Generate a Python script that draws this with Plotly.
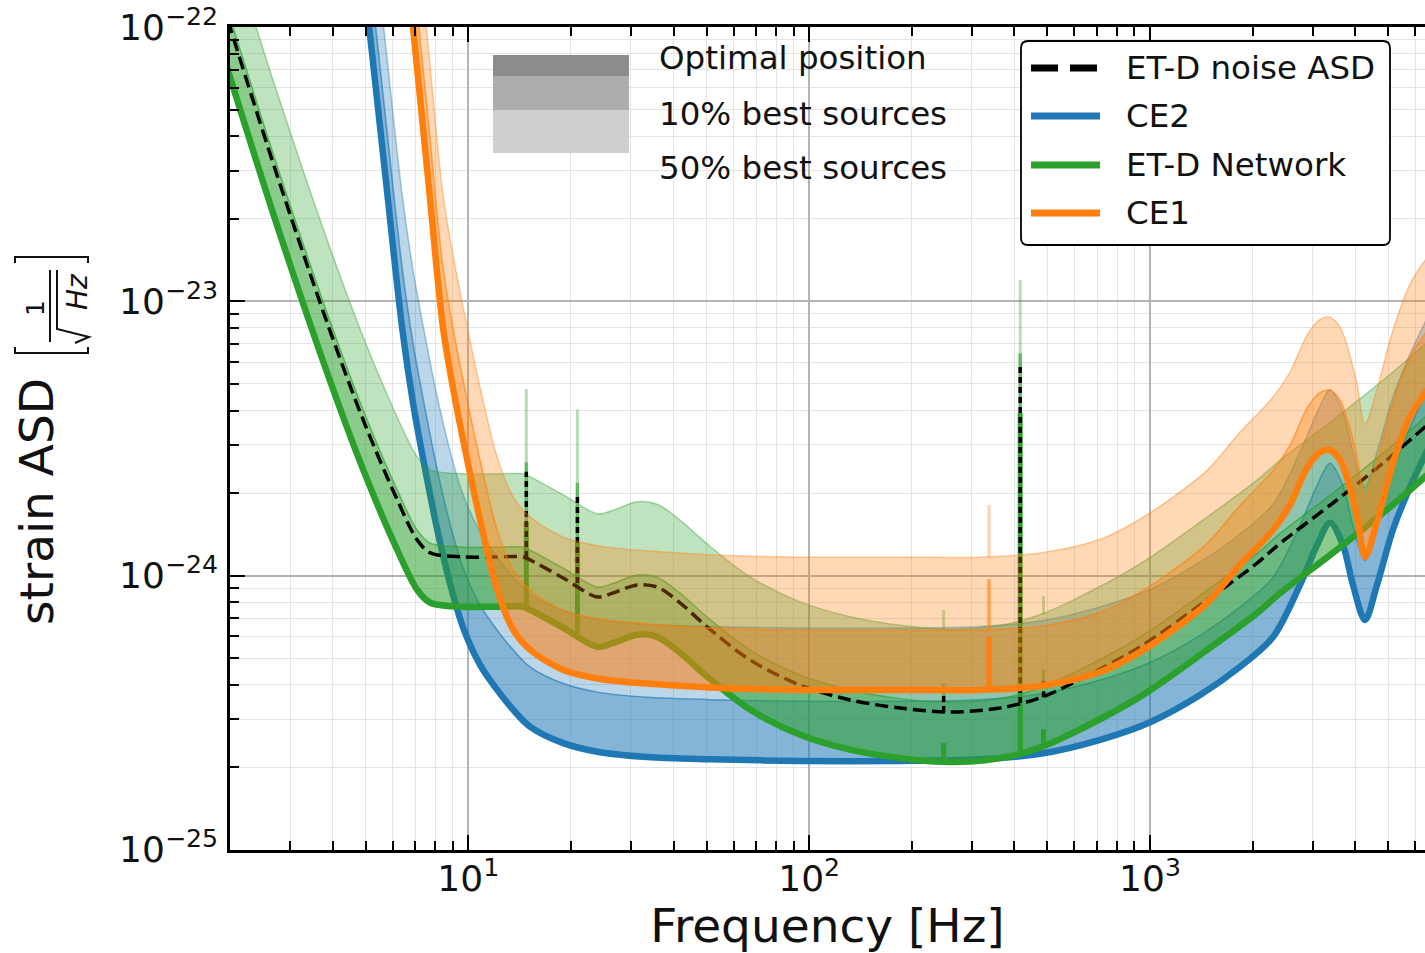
import math
import plotly.graph_objects as go

# ---------------------------------------------------------------- data
# ET-D single detector noise ASD (dashed black)
etd_freq = [1.9, 2.0, 2.72, 3.83, 4.92, 6.19, 7.08, 7.74, 9.66, 12.0, 14.5, 15.2, 19.0, 23.9, 26.6,
            31.3, 35.8, 41.9, 50.2, 67.2, 94.1, 132, 185, 259, 363, 475, 594, 935, 1470, 2060,
            2405, 3440, 4820, 6400, 7087]
etd_noise = [1.23e-22, 1.0e-22, 3.0e-23, 8.55e-24, 3.69e-24, 1.89e-24, 1.35e-24, 1.21e-24, 1.17e-24,
             1.17e-24, 1.17e-24, 1.14e-24, 9.8e-25, 8.36e-25, 8.64e-25, 9.25e-25, 9.09e-25, 7.94e-25,
             6.5e-25, 4.92e-25, 3.99e-25, 3.52e-25, 3.29e-25, 3.18e-25, 3.29e-25, 3.58e-25, 4.06e-25,
             5.5e-25, 8.15e-25, 1.11e-24, 1.31e-24, 1.84e-24, 2.57e-24, 3.48e-24, 3.9e-24]

# ET-D network: optimal position, 10% best sources, 50% best sources
etn_opt = [8.09e-23, 6.58e-23, 1.97e-23, 5.62e-24, 2.43e-24, 1.24e-24, 8.88e-25, 7.96e-25, 7.70e-25,
           7.70e-25, 7.70e-25, 7.50e-25, 6.45e-25, 5.50e-25, 5.68e-25, 6.09e-25, 5.98e-25, 5.22e-25,
           4.28e-25, 3.24e-25, 2.63e-25, 2.32e-25, 2.16e-25, 2.09e-25, 2.16e-25, 2.36e-25, 2.67e-25,
           3.62e-25, 5.36e-25, 7.30e-25, 8.62e-25, 1.21e-24, 1.69e-24, 2.29e-24, 2.57e-24]
etn_p10 = [1.335e-22, 1.086e-22, 3.25e-23, 9.27e-24, 4.01e-24, 2.05e-24, 1.465e-24, 1.313e-24, 1.27e-24,
           1.27e-24, 1.27e-24, 1.238e-24, 1.064e-24, 9.08e-25, 9.37e-25, 1.005e-24, 9.87e-25, 8.61e-25,
           7.06e-25, 5.35e-25, 4.34e-25, 3.83e-25, 3.56e-25, 3.45e-25, 3.56e-25, 3.89e-25, 4.41e-25,
           5.97e-25, 8.84e-25, 1.205e-24, 1.422e-24, 2.0e-24, 2.79e-24, 3.78e-24, 4.24e-24]
etn_p50 = [2.47e-22, 2.01e-22, 6.01e-23, 1.714e-23, 7.41e-24, 3.78e-24, 2.71e-24, 2.43e-24, 2.35e-24,
           2.35e-24, 2.35e-24, 2.29e-24, 1.97e-24, 1.68e-24, 1.73e-24, 1.86e-24, 1.82e-24, 1.59e-24,
           1.305e-24, 9.88e-25, 8.02e-25, 7.08e-25, 6.59e-25, 6.37e-25, 6.59e-25, 7.2e-25, 8.14e-25,
           1.104e-24, 1.635e-24, 2.23e-24, 2.63e-24, 3.69e-24, 5.15e-24, 6.98e-24, 7.84e-24]

# CE2
ce2_freq = [5.02, 5.71, 6.41, 6.90, 7.48, 8.11, 8.86, 9.67, 10.84, 12.16, 13.55, 15.2, 19.0, 23.9,
            33.5, 51.3, 94.1, 185, 317, 476, 714, 1000, 1402, 1836, 2295, 2754, 3089, 3373, 3681,
            3938, 4272, 4632, 5159, 5788, 6406, 7087]
ce2_opt = [1.254e-22, 2.887e-23, 7.86e-24, 4.19e-24, 2.43e-24, 1.47e-24, 9.25e-25, 6.44e-25, 4.72e-25,
           3.83e-25, 3.24e-25, 2.81e-25, 2.45e-25, 2.28e-25, 2.18e-25, 2.14e-25, 2.11e-25, 2.11e-25,
           2.14e-25, 2.24e-25, 2.52e-25, 2.92e-25, 3.67e-25, 4.65e-25, 5.97e-25, 9.25e-25, 1.29e-24,
           1.56e-24, 1.29e-24, 9.25e-25, 6.89e-25, 9.25e-25, 1.47e-24, 2.10e-24, 2.75e-24, 3.54e-24]
ce2_p10 = [2.069e-22, 4.76e-23, 1.297e-23, 6.91e-24, 4.01e-24, 2.43e-24, 1.526e-24, 1.063e-24, 7.79e-25,
           6.32e-25, 5.35e-25, 4.64e-25, 4.04e-25, 3.76e-25, 3.60e-25, 3.53e-25, 3.48e-25, 3.48e-25,
           3.53e-25, 3.70e-25, 4.16e-25, 4.82e-25, 6.06e-25, 7.67e-25, 9.85e-25, 1.526e-24, 2.13e-24,
           2.57e-24, 2.13e-24, 1.526e-24, 1.137e-24, 1.526e-24, 2.43e-24, 3.47e-24, 4.54e-24, 5.84e-24]
ce2_p50 = [3.82e-22, 8.81e-23, 2.40e-23, 1.278e-23, 7.41e-24, 4.48e-24, 2.82e-24, 1.964e-24, 1.44e-24,
           1.168e-24, 9.88e-25, 8.57e-25, 7.47e-25, 6.95e-25, 6.65e-25, 6.53e-25, 6.44e-25, 6.44e-25,
           6.53e-25, 6.83e-25, 7.69e-25, 8.91e-25, 1.119e-24, 1.418e-24, 1.821e-24, 2.82e-24, 3.93e-24,
           4.76e-24, 3.93e-24, 2.82e-24, 2.10e-24, 2.82e-24, 4.48e-24, 6.41e-24, 8.39e-24, 1.08e-23]

# CE1
ce1_freq = [6.76, 7.63, 8.45, 9.16, 10.0, 10.99, 12.16, 13.55, 15.2, 19.0, 24.4, 34.2, 54.8, 94.1,
            185, 317, 476, 714, 935, 1168, 1470, 1836, 2295, 2574, 2887, 3151, 3373, 3607, 3782,
            4046, 4272, 4632, 5159, 5788, 6406, 7087]
ce1_opt = [1.254e-22, 2.77e-23, 7.86e-24, 4.37e-24, 2.53e-24, 1.47e-24, 8.86e-25, 6.34e-25, 5.36e-25,
           4.53e-25, 4.20e-25, 4.03e-25, 3.89e-25, 3.83e-25, 3.83e-25, 3.83e-25, 3.96e-25, 4.45e-25,
           5.27e-25, 6.34e-25, 7.94e-25, 1.093e-24, 1.466e-24, 1.809e-24, 2.467e-24, 2.82e-24, 2.87e-24,
           2.64e-24, 2.27e-24, 1.64e-24, 1.17e-24, 1.57e-24, 2.57e-24, 3.79e-24, 4.63e-24, 5.62e-24]
ce1_p10 = [2.069e-22, 4.57e-23, 1.297e-23, 7.21e-24, 4.17e-24, 2.43e-24, 1.462e-24, 1.046e-24, 8.84e-25,
           7.47e-25, 6.93e-25, 6.65e-25, 6.42e-25, 6.32e-25, 6.32e-25, 6.32e-25, 6.53e-25, 7.34e-25,
           8.70e-25, 1.046e-24, 1.31e-24, 1.803e-24, 2.42e-24, 2.985e-24, 4.07e-24, 4.65e-24, 4.74e-24,
           4.36e-24, 3.75e-24, 2.71e-24, 1.93e-24, 2.59e-24, 4.24e-24, 6.25e-24, 7.64e-24, 9.27e-24]
ce1_p50 = [3.82e-22, 8.45e-23, 2.40e-23, 1.333e-23, 7.72e-24, 4.48e-24, 2.70e-24, 1.934e-24, 1.635e-24,
           1.382e-24, 1.281e-24, 1.229e-24, 1.186e-24, 1.168e-24, 1.168e-24, 1.168e-24, 1.208e-24,
           1.357e-24, 1.607e-24, 1.934e-24, 2.42e-24, 3.33e-24, 4.47e-24, 5.52e-24, 7.52e-24, 8.60e-24,
           8.75e-24, 8.05e-24, 6.92e-24, 5.00e-24, 3.57e-24, 4.79e-24, 7.84e-24, 1.156e-23, 1.412e-23,
           1.714e-23]

# narrow spectral lines (frequency, base value, peak value)
etd_line_freq = [14.8, 20.9, 248, 416, 487]
etd_line_base = [1.17e-24, 9.4e-25, 3.18e-25, 3.43e-25, 3.6e-25]
etd_line_top = [2.39e-24, 2.0e-24, 3.7e-25, 5.96e-24, 4.2e-25]
etn_line_opt_base = [7.70e-25, 6.18e-25, 2.09e-25, 2.26e-25, 2.37e-25]
etn_line_opt_top = [1.57e-24, 1.32e-24, 2.45e-25, 3.92e-24, 2.75e-25]
etn_line_p10_base = [1.27e-24, 1.02e-24, 3.45e-25, 3.72e-25, 3.9e-25]
etn_line_p10_top = [2.59e-24, 2.18e-24, 4.05e-25, 6.47e-24, 4.55e-25]
etn_line_p50_base = [2.35e-24, 1.885e-24, 6.37e-25, 6.88e-25, 7.2e-25]
etn_line_p50_top = [4.79e-24, 4.03e-24, 7.5e-25, 1.2e-23, 8.4e-25]
ce1_line_freq = [337]
ce1_line_opt_base = [3.83e-25]
ce1_line_opt_top = [5.97e-25]
ce1_line_p10_base = [6.32e-25]
ce1_line_p10_top = [9.7e-25]
ce1_line_p50_base = [1.168e-24]
ce1_line_p50_top = [1.81e-24]

legend_labels = ["ET-D noise ASD", "CE2", "ET-D Network", "CE1"]
band_labels = ["Optimal position", "10% best sources", "50% best sources"]
x_major = [10, 100, 1000]
x_major_text = ["10<sup>1</sup>", "10<sup>2</sup>", "10<sup>3</sup>"]
y_major = [1e-25, 1e-24, 1e-23, 1e-22]
y_major_text = ["10<sup>\u221225</sup>", "10<sup>\u221224</sup>", "10<sup>\u221223</sup>", "10<sup>\u221222</sup>"]

# ---------------------------------------------------------------- style
BLUE = (31, 119, 180)
ORANGE = (255, 127, 14)
GREEN = (44, 160, 44)
FONT = "DejaVu Sans"
TXT = "#111111"

W, H = 1425, 953
L, R, T, B = 230, 1425, 27, 850


def rgba(c, a):
    return f"rgba({c[0]},{c[1]},{c[2]},{a})"


def X(px):
    return (px - L) / (R - L)


def Y(py):
    return (B - py) / (B - T)


def segs(freqs, base, top):
    xs, ys = [], []
    for f, b, t in zip(freqs, base, top):
        xs += [f, f, None]
        ys += [b, t, None]
    return xs, ys


fig = go.Figure()
SM = 0.9


def add_detector(freq, opt, p10, p50, col, lines=None):
    fig.add_trace(go.Scatter(x=freq, y=opt, mode="lines", hoverinfo="skip",
                             line=dict(width=0, color=rgba(col, 0), shape="spline", smoothing=SM)))
    fig.add_trace(go.Scatter(x=freq, y=p10, mode="lines", hoverinfo="skip", fill="tonexty",
                             fillcolor=rgba(col, 0.55),
                             line=dict(width=1.5, color=rgba(col, 0.65), shape="spline", smoothing=SM)))
    fig.add_trace(go.Scatter(x=freq, y=p50, mode="lines", hoverinfo="skip", fill="tonexty",
                             fillcolor=rgba(col, 0.3),
                             line=dict(width=1.5, color=rgba(col, 0.4), shape="spline", smoothing=SM)))
    if lines:
        lf, ob, ot, b10, t10, b50, t50 = lines
        x50, y50 = segs(lf, b50, t50)
        fig.add_trace(go.Scatter(x=x50, y=y50, mode="lines", hoverinfo="skip",
                                 line=dict(width=3, color=rgba(col, 0.35))))
        x10, y10 = segs(lf, b10, t10)
        fig.add_trace(go.Scatter(x=x10, y=y10, mode="lines", hoverinfo="skip",
                                 line=dict(width=3.5, color=rgba(col, 0.6))))
    fig.add_trace(go.Scatter(x=freq, y=opt, mode="lines", hoverinfo="skip",
                             line=dict(width=6.5, color=rgba(col, 1), shape="spline", smoothing=SM)))
    if lines:
        xo, yo = segs(lf, ob, ot)
        fig.add_trace(go.Scatter(x=xo, y=yo, mode="lines", hoverinfo="skip",
                                 line=dict(width=5, color=rgba(col, 1))))


add_detector(ce2_freq, ce2_opt, ce2_p10, ce2_p50, BLUE)
add_detector(etd_freq, etn_opt, etn_p10, etn_p50, GREEN,
             (etd_line_freq, etn_line_opt_base, etn_line_opt_top, etn_line_p10_base,
              etn_line_p10_top, etn_line_p50_base, etn_line_p50_top))

# ET-D noise ASD (dashed, above the green bands, under the CE1 bands)
fig.add_trace(go.Scatter(x=etd_freq, y=etd_noise, mode="lines", hoverinfo="skip",
                         line=dict(color="black", width=3.5, dash="13px,6px", shape="spline", smoothing=SM)))
sx, sy = segs(etd_line_freq, etd_line_base, etd_line_top)
fig.add_trace(go.Scatter(x=sx, y=sy, mode="lines", hoverinfo="skip",
                         line=dict(color="black", width=3.5, dash="6px,4px")))

add_detector(ce1_freq, ce1_opt, ce1_p10, ce1_p50, ORANGE,
             (ce1_line_freq, ce1_line_opt_base, ce1_line_opt_top, ce1_line_p10_base,
              ce1_line_p10_top, ce1_line_p50_base, ce1_line_p50_top))

# ---------------------------------------------------------------- axes
x_minor = [m * d for d in (1, 10, 100, 1000) for m in range(2, 10) if 2 <= m * d <= 7000]
y_minor = [m * d for d in (1e-25, 1e-24, 1e-23) for m in range(2, 10)]

fig.update_xaxes(type="log", range=[math.log10(2.0), math.log10(6406)],
                 tickmode="array", tickvals=x_major, ticktext=x_major_text,
                 ticks="inside", ticklen=15, tickwidth=2, tickcolor="black",
                 showline=True, linewidth=2.5, linecolor="black", mirror="ticks",
                 showgrid=True, gridcolor="#b4b4b4", gridwidth=1.5, zeroline=False,
                 minor=dict(tickvals=x_minor, ticks="inside", ticklen=9, tickwidth=1.5,
                            tickcolor="black", showgrid=True, gridcolor="#e4e4e4", gridwidth=1.3),
                 tickfont=dict(family=FONT, size=36, color=TXT), ticklabelstandoff=-5,
                 title=dict(text="Frequency [Hz]", font=dict(family=FONT, size=47, color=TXT), standoff=14))
fig.update_yaxes(type="log", range=[-25.0005, -21.9995],
                 tickmode="array", tickvals=y_major, ticktext=y_major_text,
                 ticks="inside", ticklen=15, tickwidth=2, tickcolor="black",
                 showline=True, linewidth=2.5, linecolor="black", mirror=False,
                 showgrid=True, gridcolor="#b4b4b4", gridwidth=1.5, zeroline=False,
                 minor=dict(tickvals=y_minor, ticks="inside", ticklen=9, tickwidth=1.5,
                            tickcolor="black", showgrid=True, gridcolor="#e4e4e4", gridwidth=1.3),
                 tickfont=dict(family=FONT, size=36, color=TXT), ticklabelstandoff=2)

shapes = []
annotations = []

# ---------------------------------------------------------------- y-axis title (with fraction)
annotations.append(dict(x=X(37), y=Y(502), xref="paper", yref="paper", text="strain ASD",
                        textangle=-90, showarrow=False, xanchor="center", yanchor="middle",
                        font=dict(family=FONT, size=47, color=TXT)))
annotations.append(dict(x=X(35), y=Y(308), xref="paper", yref="paper", text="1",
                        textangle=-90, showarrow=False, xanchor="center", yanchor="middle",
                        font=dict(family=FONT, size=25, color=TXT)))
annotations.append(dict(x=X(77), y=Y(292), xref="paper", yref="paper", text="<i>Hz</i>",
                        textangle=-90, showarrow=False, xanchor="center", yanchor="middle",
                        font=dict(family=FONT, size=28, color=TXT)))


def path(points):
    return "M" + " L".join(f"{X(a):.5f},{Y(b):.5f}" for a, b in points)


for pts in ([(15, 263), (15, 257), (88, 257), (88, 263)],
            [(15, 347), (15, 353), (88, 353), (88, 347)],
            [(50, 270), (50, 342)],
            [(75, 343), (89, 337), (57, 329), (57, 270)]):
    shapes.append(dict(type="path", path=path(pts), xref="paper", yref="paper",
                       line=dict(color=TXT, width=2)))

# ---------------------------------------------------------------- band legend (gray patches)
for (y0, y1, c) in ((55, 76, "#8c8c8c"), (76, 110, "#adadad"), (110, 153, "#cfcfcf")):
    shapes.append(dict(type="rect", xref="paper", yref="paper", x0=X(493), x1=X(629),
                       y0=Y(y1), y1=Y(y0), fillcolor=c, line=dict(width=0), layer="above"))
for lab, yc in zip(band_labels, (58, 114, 168)):
    annotations.append(dict(x=X(657), y=Y(yc), xref="paper", yref="paper", text=lab,
                            showarrow=False, xanchor="left", yanchor="middle",
                            font=dict(family=FONT, size=32.5, color=TXT)))

# ---------------------------------------------------------------- line legend
x0, x1, y0, y1, r = 1021, 1390, 41, 245, 7
box = (f"M{X(x0 + r)},{Y(y0)} L{X(x1 - r)},{Y(y0)} Q{X(x1)},{Y(y0)} {X(x1)},{Y(y0 + r)} "
       f"L{X(x1)},{Y(y1 - r)} Q{X(x1)},{Y(y1)} {X(x1 - r)},{Y(y1)} L{X(x0 + r)},{Y(y1)} "
       f"Q{X(x0)},{Y(y1)} {X(x0)},{Y(y1 - r)} L{X(x0)},{Y(y0 + r)} Q{X(x0)},{Y(y0)} {X(x0 + r)},{Y(y0)} Z")
shapes.append(dict(type="path", path=box, xref="paper", yref="paper", fillcolor="white",
                   line=dict(color="black", width=1.8), layer="above"))
leg_styles = [("black", "27px,12px"), (rgba(BLUE, 1), "solid"), (rgba(GREEN, 1), "solid"),
              (rgba(ORANGE, 1), "solid")]
for lab, yc, (c, d) in zip(legend_labels, (68, 116, 165, 213), leg_styles):
    shapes.append(dict(type="line", xref="paper", yref="paper", x0=X(1031), x1=X(1100),
                       y0=Y(yc), y1=Y(yc), line=dict(color=c, width=7, dash=d), layer="above"))
    annotations.append(dict(x=X(1124), y=Y(yc), xref="paper", yref="paper", text=lab,
                            showarrow=False, xanchor="left", yanchor="middle",
                            font=dict(family=FONT, size=32.5, color=TXT)))

fig.update_layout(width=W, height=H, margin=dict(l=L, r=W - R, t=T, b=H - B),
                  plot_bgcolor="white", paper_bgcolor="white", showlegend=False,
                  hovermode=False, font=dict(family=FONT, color=TXT),
                  shapes=shapes, annotations=annotations)

fig.write_html("out.html")
